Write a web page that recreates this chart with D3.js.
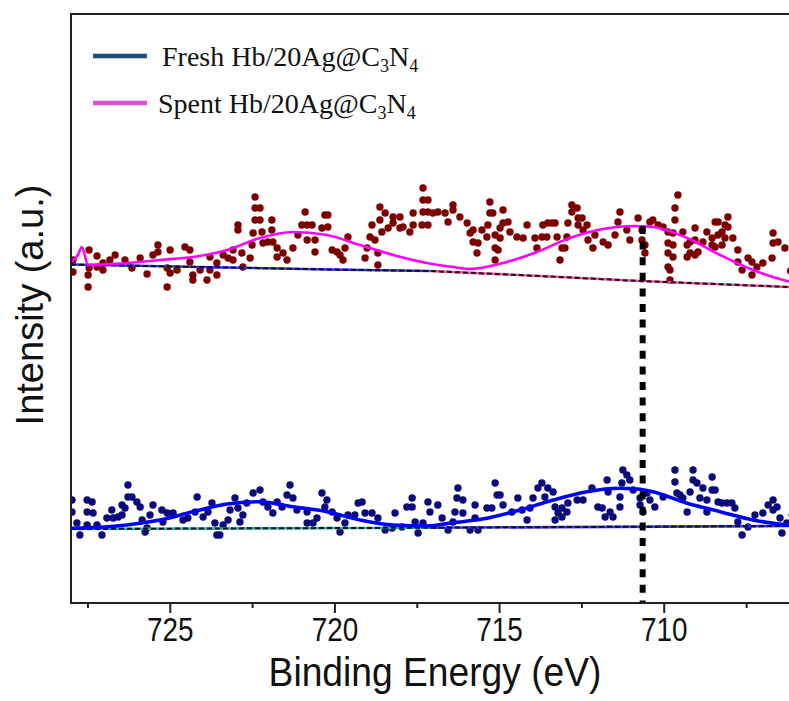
<!DOCTYPE html>
<html>
<head>
<meta charset="utf-8">
<script src="https://cdn.jsdelivr.net/npm/d3@7/dist/d3.min.js"></script>
<style>
  html, body { margin: 0; padding: 0; background: #fff; }
  svg { display: block; }
</style>
</head>
<body>
<div id="chart"></div>
<script>
// Binding energy axis (eV), reversed as usual for XPS
const energyDomain = [728, 706];
const majorTicks = [725, 720, 715, 710];
const minorTicks = [727.5, 722.5, 717.5, 712.5, 707.5];
const intensityDomain = [0, 589];
const peakMarker = { energy: 710.64, top: 377 };

// Spent Hb/20Ag@C3N4 raw points [eV, a.u.]
const spentPoints = [
  [727.94,343],[727.94,331],[727.45,353],[727.45,335],[727.48,328],[727.48,316],[727.21,347],[727.21,336],
  [727.03,340],[727.03,333],[726.82,343],[726.66,348],[726.36,343],[726.15,335],[725.90,345],[725.69,329],
  [725.51,348],[725.36,358],[725.36,351],[725.08,335],[725.08,316],[724.99,353],[724.99,330],[724.78,333],
  [724.54,356],[724.39,353],[724.39,341],[724.30,328],[724.30,323],[724.08,333],[723.87,323],[723.78,346],
  [723.78,333],[723.57,340],[723.57,328],[723.38,348],[723.23,345],[723.08,353],[723.08,343],[722.93,378],
  [722.93,373],[722.81,350],[722.78,336],[722.56,345],[722.50,358],[722.47,370],[722.41,406],[722.41,395],
  [722.41,383],[722.26,395],[722.26,383],[722.20,371],[722.17,360],[722.02,361],[721.90,383],[721.90,373],
  [721.87,361],[721.74,355],[721.74,346],[721.56,350],[721.44,343],[721.26,355],[721.11,368],[720.99,378],
  [720.89,391],[720.83,378],[720.83,363],[720.68,378],[720.59,363],[720.59,351],[720.38,375],[720.29,388],
  [720.20,388],[720.20,376],[720.07,353],[719.92,351],[719.83,348],[719.74,343],[719.68,355],[719.59,366],
  [719.07,345],[719.01,355],[718.92,366],[718.86,378],[718.77,363],[718.68,350],[718.68,338],[718.62,396],
  [718.62,383],[718.56,371],[718.46,390],[718.37,375],[718.22,386],[718.22,380],[718.01,386],[718.01,375],
  [717.92,376],[717.71,371],[717.61,390],[717.61,378],[717.34,378],[717.31,415],[717.31,403],[717.31,391],
  [717.16,403],[717.16,391],[717.16,378],[717.01,390],[716.86,391],[716.64,390],[716.55,381],[716.40,398],
  [716.40,393],[716.19,386],[715.97,380],[715.88,370],[715.79,373],[715.79,361],[715.67,350],[715.64,360],
  [715.52,373],[715.37,366],[715.34,378],[715.28,401],[715.28,390],[715.19,390],[715.12,368],[715.12,355],
  [715.12,343],[715.03,353],[714.97,375],[714.97,365],[714.88,393],[714.88,380],[714.73,381],[714.67,371],
  [714.46,366],[714.27,365],[714.15,378],[713.91,365],[713.85,355],[713.70,366],[713.67,378],[713.55,366],
  [713.52,380],[713.39,380],[713.30,380],[713.24,366],[713.15,343],[713.09,355],[713.00,355],[712.94,366],
  [712.91,380],[712.79,398],[712.79,391],[712.63,395],[712.60,385],[712.60,378],[712.48,385],[712.45,373],
  [712.33,378],[712.30,363],[712.15,355],[712.09,368],[711.84,361],[711.69,358],[711.48,368],[711.39,381],
  [711.33,391],[711.12,373],[711.03,363],[710.78,385],[710.66,373],[710.66,363],[710.57,358],[710.57,350],
  [710.42,381],[710.33,383],[710.17,378],[710.02,376],[709.87,371],[709.87,360],[709.87,350],[709.87,336],
  [709.81,333],[709.81,323],[709.72,370],[709.72,358],[709.72,346],[709.66,383],[709.66,395],[709.57,408],
  [709.42,371],[709.29,358],[709.29,346],[709.20,361],[709.20,350],[709.05,375],[709.05,363],[709.05,348],
  [708.96,351],[708.81,361],[708.69,371],[708.53,358],[708.53,365],[708.44,381],[708.44,356],[708.35,381],
  [708.35,368],[708.23,371],[708.23,358],[708.14,378],[708.14,365],[708.05,386],[708.05,376],[707.90,365],
  [707.75,353],[707.75,341],[707.62,333],[707.44,345],[707.32,341],[707.32,328],[707.17,336],[706.99,340],
  [706.71,345],[706.68,370],[706.68,360],[706.53,361],[706.32,355],[706.15,332]
];

// Spent fitted envelope and background
const spentFit = [
  [728.00,341],[727.79,348],[727.67,356],[727.48,338],[726.30,340],[725.30,343],[724.30,346],[723.26,353],
  [722.26,365],[721.26,371],[720.23,368],[719.22,358],[718.22,348],[717.19,340],[716.40,336],[715.88,334],
  [714.88,340],[713.85,351],[712.85,365],[711.84,374],[710.93,377],[710.33,376],[709.29,365],[708.29,348],
  [707.29,333],[706.26,322],[706.00,320]
];
const spentBase = [
  [728.00,338.5],[724.08,336],[720.13,333.5],[717.10,332],[713.76,327],[710.72,322],[706.20,316],[706.00,315.7]
];

// Fresh Hb/20Ag@C3N4 raw points [eV, a.u.]
const freshPoints = [
  [727.97,103],[727.97,91],[727.82,80],[727.73,68],[727.51,103],[727.51,91],[727.51,78],[727.36,101],
  [727.33,90],[727.21,78],[727.06,68],[726.91,85],[726.76,93],[726.72,85],[726.57,86],[726.45,98],
  [726.45,88],[726.36,95],[726.27,118],[726.27,106],[726.15,106],[726.00,101],[725.90,96],[725.84,83],
  [725.75,71],[725.69,75],[725.60,88],[725.51,98],[725.24,93],[725.21,81],[725.08,90],[724.90,90],
  [724.60,83],[724.45,85],[724.23,91],[724.17,106],[723.99,86],[723.84,91],[723.72,100],[723.63,80],
  [723.57,68],[723.48,68],[723.38,78],[723.23,83],[723.17,93],[723.02,105],[722.93,95],[722.87,81],
  [722.78,88],[722.66,100],[722.47,110],[722.26,113],[722.17,101],[722.02,96],[721.87,90],[721.74,101],
  [721.59,96],[721.44,108],[721.35,118],[721.26,105],[721.14,93],[720.83,91],[720.83,80],[720.65,80],
  [720.53,85],[720.38,110],[720.29,96],[720.23,103],[720.07,91],[719.92,85],[719.83,71],[719.68,80],
  [719.59,88],[719.38,88],[719.28,100],[719.16,101],[719.07,90],[718.86,90],[718.68,85],[718.46,73],
  [718.25,75],[718.16,90],[717.95,76],[717.80,96],[717.64,105],[717.64,96],[717.55,81],[717.46,70],
  [717.31,80],[717.16,101],[717.10,91],[716.86,98],[716.73,85],[716.55,73],[716.40,81],[716.34,91],
  [716.28,105],[716.25,115],[716.10,103],[716.10,90],[715.88,73],[715.73,98],[715.73,85],[715.64,73],
  [715.37,95],[715.22,95],[715.12,120],[715.06,108],[714.97,108],[714.88,98],[714.61,91],[714.43,105],
  [714.30,93],[714.15,83],[714.06,95],[713.97,105],[713.82,115],[713.70,120],[713.61,106],[713.52,115],
  [713.36,111],[713.30,96],[713.30,83],[713.21,90],[713.09,95],[713.09,86],[712.94,91],[712.91,100],
  [712.63,103],[712.45,103],[712.18,115],[712.00,96],[711.87,95],[711.78,86],[711.72,123],[711.69,111],
  [711.63,91],[711.54,86],[711.33,96],[711.33,106],[711.27,120],[711.24,133],[711.12,128],[711.03,123],
  [710.93,113],[710.72,105],[710.72,98],[710.63,91],[710.51,110],[710.42,103],[710.27,96],[710.02,106],
  [709.66,133],[709.66,121],[709.60,110],[709.51,108],[709.42,105],[709.29,91],[709.20,111],[709.11,133],
  [709.11,123],[708.99,120],[708.90,105],[708.81,115],[708.69,103],[708.69,91],[708.53,126],[708.53,113],
  [708.44,113],[708.35,101],[708.23,100],[708.08,100],[707.93,100],[707.84,95],[707.75,81],[707.62,68],
  [707.44,76],[707.23,88],[706.99,90],[706.83,98],[706.68,103],[706.68,93],[706.56,96],[706.47,85],
  [706.41,70],[706.26,80],[706.10,88]
];

const freshFit = [
  [727.97,74.7],[726.30,78],[725.30,83],[724.30,91.3],[723.26,99],[722.26,101.3],[721.26,96.3],[720.23,91.3],
  [719.22,83],[718.22,78],[717.19,77],[716.40,80.3],[715.37,84.7],[714.37,93],[713.36,103],[712.33,111.3],
  [711.33,114.7],[710.81,114],[710.33,111.3],[709.29,99.7],[708.29,91.3],[707.29,83],[706.26,78],[706.00,77]
];
const freshBase = [[728.00,74],[717.10,75.3],[706.20,77],[706.00,77]];

const legendItems = [
  { name: "Fresh Hb/20Ag@C", sub1: "3", mid: "N", sub2: "4", color: "#1f4e79" },
  { name: "Spent Hb/20Ag@C", sub1: "3", mid: "N", sub2: "4", color: "#dc50d0" }
];

const width = 789, height = 701;
const plot = { left: 71, top: 14, bottom: 603 };

const x = d3.scaleLinear().domain(energyDomain).range([plot.left, plot.left + 22 * 32.93]);
const y = d3.scaleLinear().domain(intensityDomain).range([plot.bottom, plot.top]);

const svg = d3.select('#chart').append('svg')
  .attr('width', width)
  .attr('height', height);

svg.append('clipPath').attr('id', 'clip')
  .append('rect')
  .attr('x', plot.left).attr('y', plot.top)
  .attr('width', width - plot.left).attr('height', plot.bottom - plot.top);

const g = svg.append('g').attr('clip-path', 'url(#clip)');

const line = d3.line()
  .x(d => x(d[0]))
  .y(d => y(d[1]))
  .curve(d3.curveMonotoneX);

const straight = d3.line().x(d => x(d[0])).y(d => y(d[1]));

// raw points
g.selectAll('circle.spent').data(spentPoints).join('circle')
  .attr('class', 'spent')
  .attr('cx', d => x(d[0])).attr('cy', d => y(d[1]))
  .attr('r', 3.7).attr('fill', '#7d0000');

g.selectAll('circle.fresh').data(freshPoints).join('circle')
  .attr('class', 'fresh')
  .attr('cx', d => x(d[0])).attr('cy', d => y(d[1]))
  .attr('r', 3.7).attr('fill', '#0a0a7a');

// backgrounds: coloured line under a black dashed one
function drawBase(data, leftColor, rightColor, split) {
  g.append('path').datum(data.filter(d => d[0] >= split))
    .attr('d', straight).attr('fill', 'none')
    .attr('stroke', leftColor).attr('stroke-width', 2.6);
  g.append('path').datum(data.filter(d => d[0] <= split))
    .attr('d', straight).attr('fill', 'none')
    .attr('stroke', rightColor).attr('stroke-width', 2.6);
  g.append('path').datum(data)
    .attr('d', straight).attr('fill', 'none')
    .attr('stroke', '#111').attr('stroke-width', 2)
    .attr('stroke-dasharray', '5,3');
}
drawBase(spentBase, '#2b2bff', '#ff4da6', 717.10);
drawBase(freshBase, '#20b2aa', '#3030ff', 717.10);

// fitted envelopes
g.append('path').datum(spentFit)
  .attr('d', line).attr('fill', 'none')
  .attr('stroke', '#ff00ff').attr('stroke-width', 2.6);

g.append('path').datum(freshFit)
  .attr('d', line).attr('fill', 'none')
  .attr('stroke', '#0000ff').attr('stroke-width', 3.6);

// peak marker
g.append('line')
  .attr('x1', x(peakMarker.energy)).attr('x2', x(peakMarker.energy))
  .attr('y1', y(peakMarker.top)).attr('y2', y(0))
  .attr('stroke', '#000').attr('stroke-width', 6)
  .attr('stroke-dasharray', '8,7.6');

// frame (right side falls outside the picture)
svg.append('path')
  .attr('d', `M${width + 10},${plot.top}H${plot.left}V${plot.bottom}H${width + 10}`)
  .attr('fill', 'none').attr('stroke', '#222').attr('stroke-width', 2);

// x axis
const xAxis = svg.append('g')
  .attr('transform', `translate(0,${plot.bottom})`)
  .call(d3.axisBottom(x).tickValues(majorTicks).tickSize(10).tickPadding(4).tickFormat(d3.format('d')));
xAxis.select('.domain').remove();
xAxis.selectAll('line').attr('stroke', '#222').attr('stroke-width', 2);
xAxis.selectAll('text')
  .attr('font-family', 'Liberation Sans, Arial, sans-serif')
  .attr('font-size', 34)
  .attr('fill', '#111')
  .attr('transform', 'scale(0.82,1)');

const xMinor = svg.append('g')
  .attr('transform', `translate(0,${plot.bottom})`)
  .call(d3.axisBottom(x).tickValues(minorTicks).tickSize(5).tickFormat(''));
xMinor.select('.domain').remove();
xMinor.selectAll('line').attr('stroke', '#222').attr('stroke-width', 2);

// axis titles
svg.append('text')
  .attr('transform', 'translate(435,686) scale(0.93,1)')
  .attr('text-anchor', 'middle')
  .attr('font-family', 'Liberation Sans, Arial, sans-serif')
  .attr('font-size', 40)
  .attr('fill', '#111')
  .text('Binding Energy (eV)');

svg.append('text')
  .attr('transform', 'translate(43,305) rotate(-90)')
  .attr('text-anchor', 'middle')
  .attr('font-family', 'Liberation Sans, Arial, sans-serif')
  .attr('font-size', 38)
  .attr('fill', '#111')
  .text('Intensity (a.u.)');

// legend
const legend = svg.append('g');
legendItems.forEach((item, i) => {
  const ly = 56 + i * 47;
  legend.append('line')
    .attr('x1', 93).attr('x2', 147).attr('y1', ly).attr('y2', ly)
    .attr('stroke', item.color).attr('stroke-width', 4.5);
  const t = legend.append('text')
    .attr('x', i === 0 ? 162 : 158).attr('y', ly + 10)
    .attr('font-family', 'Liberation Serif, Times New Roman, serif')
    .attr('font-size', 28)
    .attr('fill', '#111');
  t.append('tspan').text(item.name);
  t.append('tspan').attr('font-size', 18).attr('dy', 6).text(item.sub1);
  t.append('tspan').attr('dy', -6).text(item.mid);
  t.append('tspan').attr('font-size', 18).attr('dy', 6).text(item.sub2);
});
</script>
</body>
</html>
